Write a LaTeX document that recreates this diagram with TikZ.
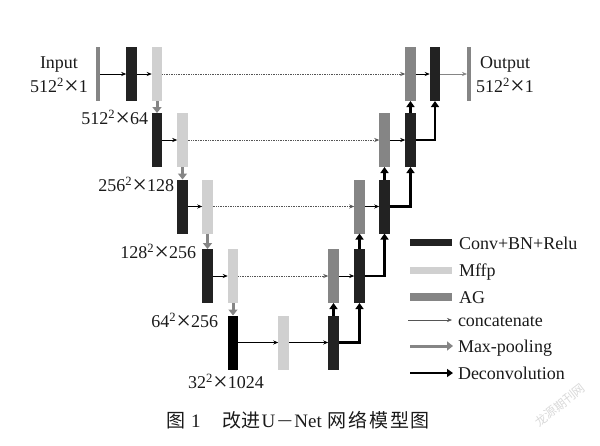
\documentclass[tikz,border=0pt]{standalone}
\usepackage{graphicx}
\usepackage{fontspec}
\setmainfont{Liberation Serif}
\newfontfamily\cjk{Noto Sans CJK SC}
\newfontfamily\cjkw[LetterSpace=9]{Noto Sans CJK SC}
\usetikzlibrary{arrows.meta}
\definecolor{convc}{HTML}{222222}
\definecolor{mffpc}{HTML}{D0D0D0}
\definecolor{agc}{HTML}{858585}
\definecolor{dotc}{HTML}{555555}
\definecolor{txtc}{HTML}{1A1A1A}
\newcommand\mytimes{\raisebox{-2pt}{\scalebox{1.45}{×}}}
\tikzset{
  blk/.style={minimum width=10.5pt, minimum height=54pt, inner sep=0pt, outer sep=0pt, draw=none},
  conv/.style={blk, fill=convc},
  mffp/.style={blk, fill=mffpc},
  ag/.style={blk, fill=agc},
  iobar/.style={blk, minimum width=4pt, fill=agc},
  swatch/.style={minimum width=42pt, minimum height=7.5pt, inner sep=0pt, outer sep=0pt, draw=none},
  thinarrow/.style={-{Stealth[length=5pt,width=4pt]}, line width=0.6pt},
  concat/.style={densely dotted, line width=0.7pt, draw=dotc, -{Stealth[length=5pt,width=4pt]}},
  pool/.style={line width=3pt, draw=agc, -{Triangle[length=6pt,width=9pt]}},
  deconv/.style={line width=2.5pt, draw=black, -{Triangle[length=6pt,width=8pt]}},
  lbl/.style={font=\fontsize{18}{24}\selectfont, text=txtc, inner sep=0pt, outer sep=0pt},
}
\begin{document}
\begin{tikzpicture}[x=1pt,y=-1pt]
\useasboundingbox (0,0) rectangle (600,445);
% level 0
\node[iobar] (in) at (98,74) {};
\node[conv] (c0) at (131.5,74) {};
\node[mffp] (m0) at (157,74) {};
\node[ag] (a0) at (410.5,74) {};
\node[conv] (d0) at (435,74) {};
\node[iobar] (out) at (469,74) {};
% level 1
\node[conv] (c1) at (157,140) {};
\node[mffp] (m1) at (182.5,140) {};
\node[ag] (a1) at (384.5,140) {};
\node[conv] (d1) at (410.5,140) {};
% level 2
\node[conv] (c2) at (182.5,206.5) {};
\node[mffp] (m2) at (207.5,206.5) {};
\node[ag] (a2) at (359.5,206.5) {};
\node[conv] (d2) at (384.5,206.5) {};
% level 3
\node[conv] (c3) at (207.5,276) {};
\node[mffp] (m3) at (233,276) {};
\node[ag] (a3) at (333.5,276) {};
\node[conv] (d3) at (359.5,276) {};
% level 4
\node[conv, fill=black] (c4) at (233,342.5) {};
\node[mffp] (m4) at (283.5,342.5) {};
\node[conv] (d4) at (333.5,342.5) {};

% horizontal arrows
\draw[thinarrow] (in) -- (c0);
\draw[thinarrow] (c0) -- (m0);
\draw[concat] (m0) -- (a0);
\draw[thinarrow] (a0) -- (d0);
\draw[thinarrow, draw=agc] (d0) -- (out);
\draw[thinarrow] (c1) -- (m1);
\draw[concat] (m1) -- (a1);
\draw[thinarrow] (a1) -- (d1);
\draw[thinarrow] (c2) -- (m2);
\draw[concat] (m2) -- (a2);
\draw[thinarrow] (a2) -- (d2);
\draw[thinarrow] (c3) -- (m3);
\draw[concat] (m3) -- (a3);
\draw[thinarrow] (a3) -- (d3);
\draw[thinarrow] (c4) -- (m4);
\draw[thinarrow] (m4) -- (d4);

% max pooling
\draw[pool] (m0.south) -- (c1.north);
\draw[pool] (m1.south) -- (c2.north);
\draw[pool] (m2.south) -- (c3.north);
\draw[pool] (m3.south) -- (c4.north);

% deconvolution
\draw[deconv] (d1.north) -- (a0.south);
\draw[deconv] (d1.east) -| (d0.south);
\draw[deconv] (d2.north) -- (a1.south);
\draw[deconv] (d2.east) -| (d1.south);
\draw[deconv] (d3.north) -- (a2.south);
\draw[deconv] (d3.east) -| (d2.south);
\draw[deconv] (d4.north) -- (a3.south);
\draw[deconv] (d4.east) -| (d3.south);

% labels
\node[lbl, align=center] (lin) at (59,76) {Input\\512\textsuperscript{2}\mytimes1};
\node[lbl, align=center] (lout) at (505,76) {Output\\512\textsuperscript{2}\mytimes1};
\node[lbl, anchor=east] (l1) at (148,118) {512\textsuperscript{2}\mytimes64};
\node[lbl, anchor=east] (l2) at (174,185) {256\textsuperscript{2}\mytimes128};
\node[lbl, anchor=east] (l3) at (196,252) {128\textsuperscript{2}\mytimes256};
\node[lbl, anchor=east] (l4) at (218,321) {64\textsuperscript{2}\mytimes256};
\node[lbl] (l5) at (226,382) {32\textsuperscript{2}\mytimes1024};

% legend
\node[swatch, fill=convc] (s1) at (431,242.5) {};
\node[swatch, fill=mffpc] (s2) at (431,270.5) {};
\node[swatch, fill=agc] (s3) at (431,297) {};
\coordinate (e1a) at (408,320); \coordinate (e1b) at (452,320);
\coordinate (e2a) at (410,346); \coordinate (e2b) at (453,346);
\coordinate (e3a) at (410,373); \coordinate (e3b) at (453,373);
\draw[thinarrow, line width=0.5pt, draw=dotc] (e1a) -- (e1b);
\draw[pool] (e2a) -- (e2b);
\draw[deconv] (e3a) -- (e3b);
\node[lbl, anchor=base west] (t1) at (459,249) {Conv+BN+Relu};
\node[lbl, anchor=base west] (t2) at (459,276) {Mffp};
\node[lbl, anchor=base west] (t3) at (459,303) {AG};
\node[lbl, anchor=base west] (t4) at (458,326) {concatenate};
\node[lbl, anchor=base west] (t5) at (458,352) {Max-pooling};
\node[lbl, anchor=base west] (t6) at (458,379) {Deconvolution};

% caption
\node[font=\fontsize{19}{22}\selectfont, text=txtc, inner sep=0pt, anchor=west] (cap) at (166,420)
  {{\cjk 图}\hspace{6pt}1\hspace{22pt}{\cjk 改进}\hspace{1pt}U\hspace{1.5pt}\scalebox{1.5}[1]{−}\hspace{1.5pt}Net\hspace{6pt}{\cjkw 网络模型图}};
% watermark
\node[font=\cjk\fontsize{12}{12}\selectfont, text=black!15, rotate=38, inner sep=0pt] (wm) at (560,405) {龙源期刊网};
\end{tikzpicture}
\end{document}
